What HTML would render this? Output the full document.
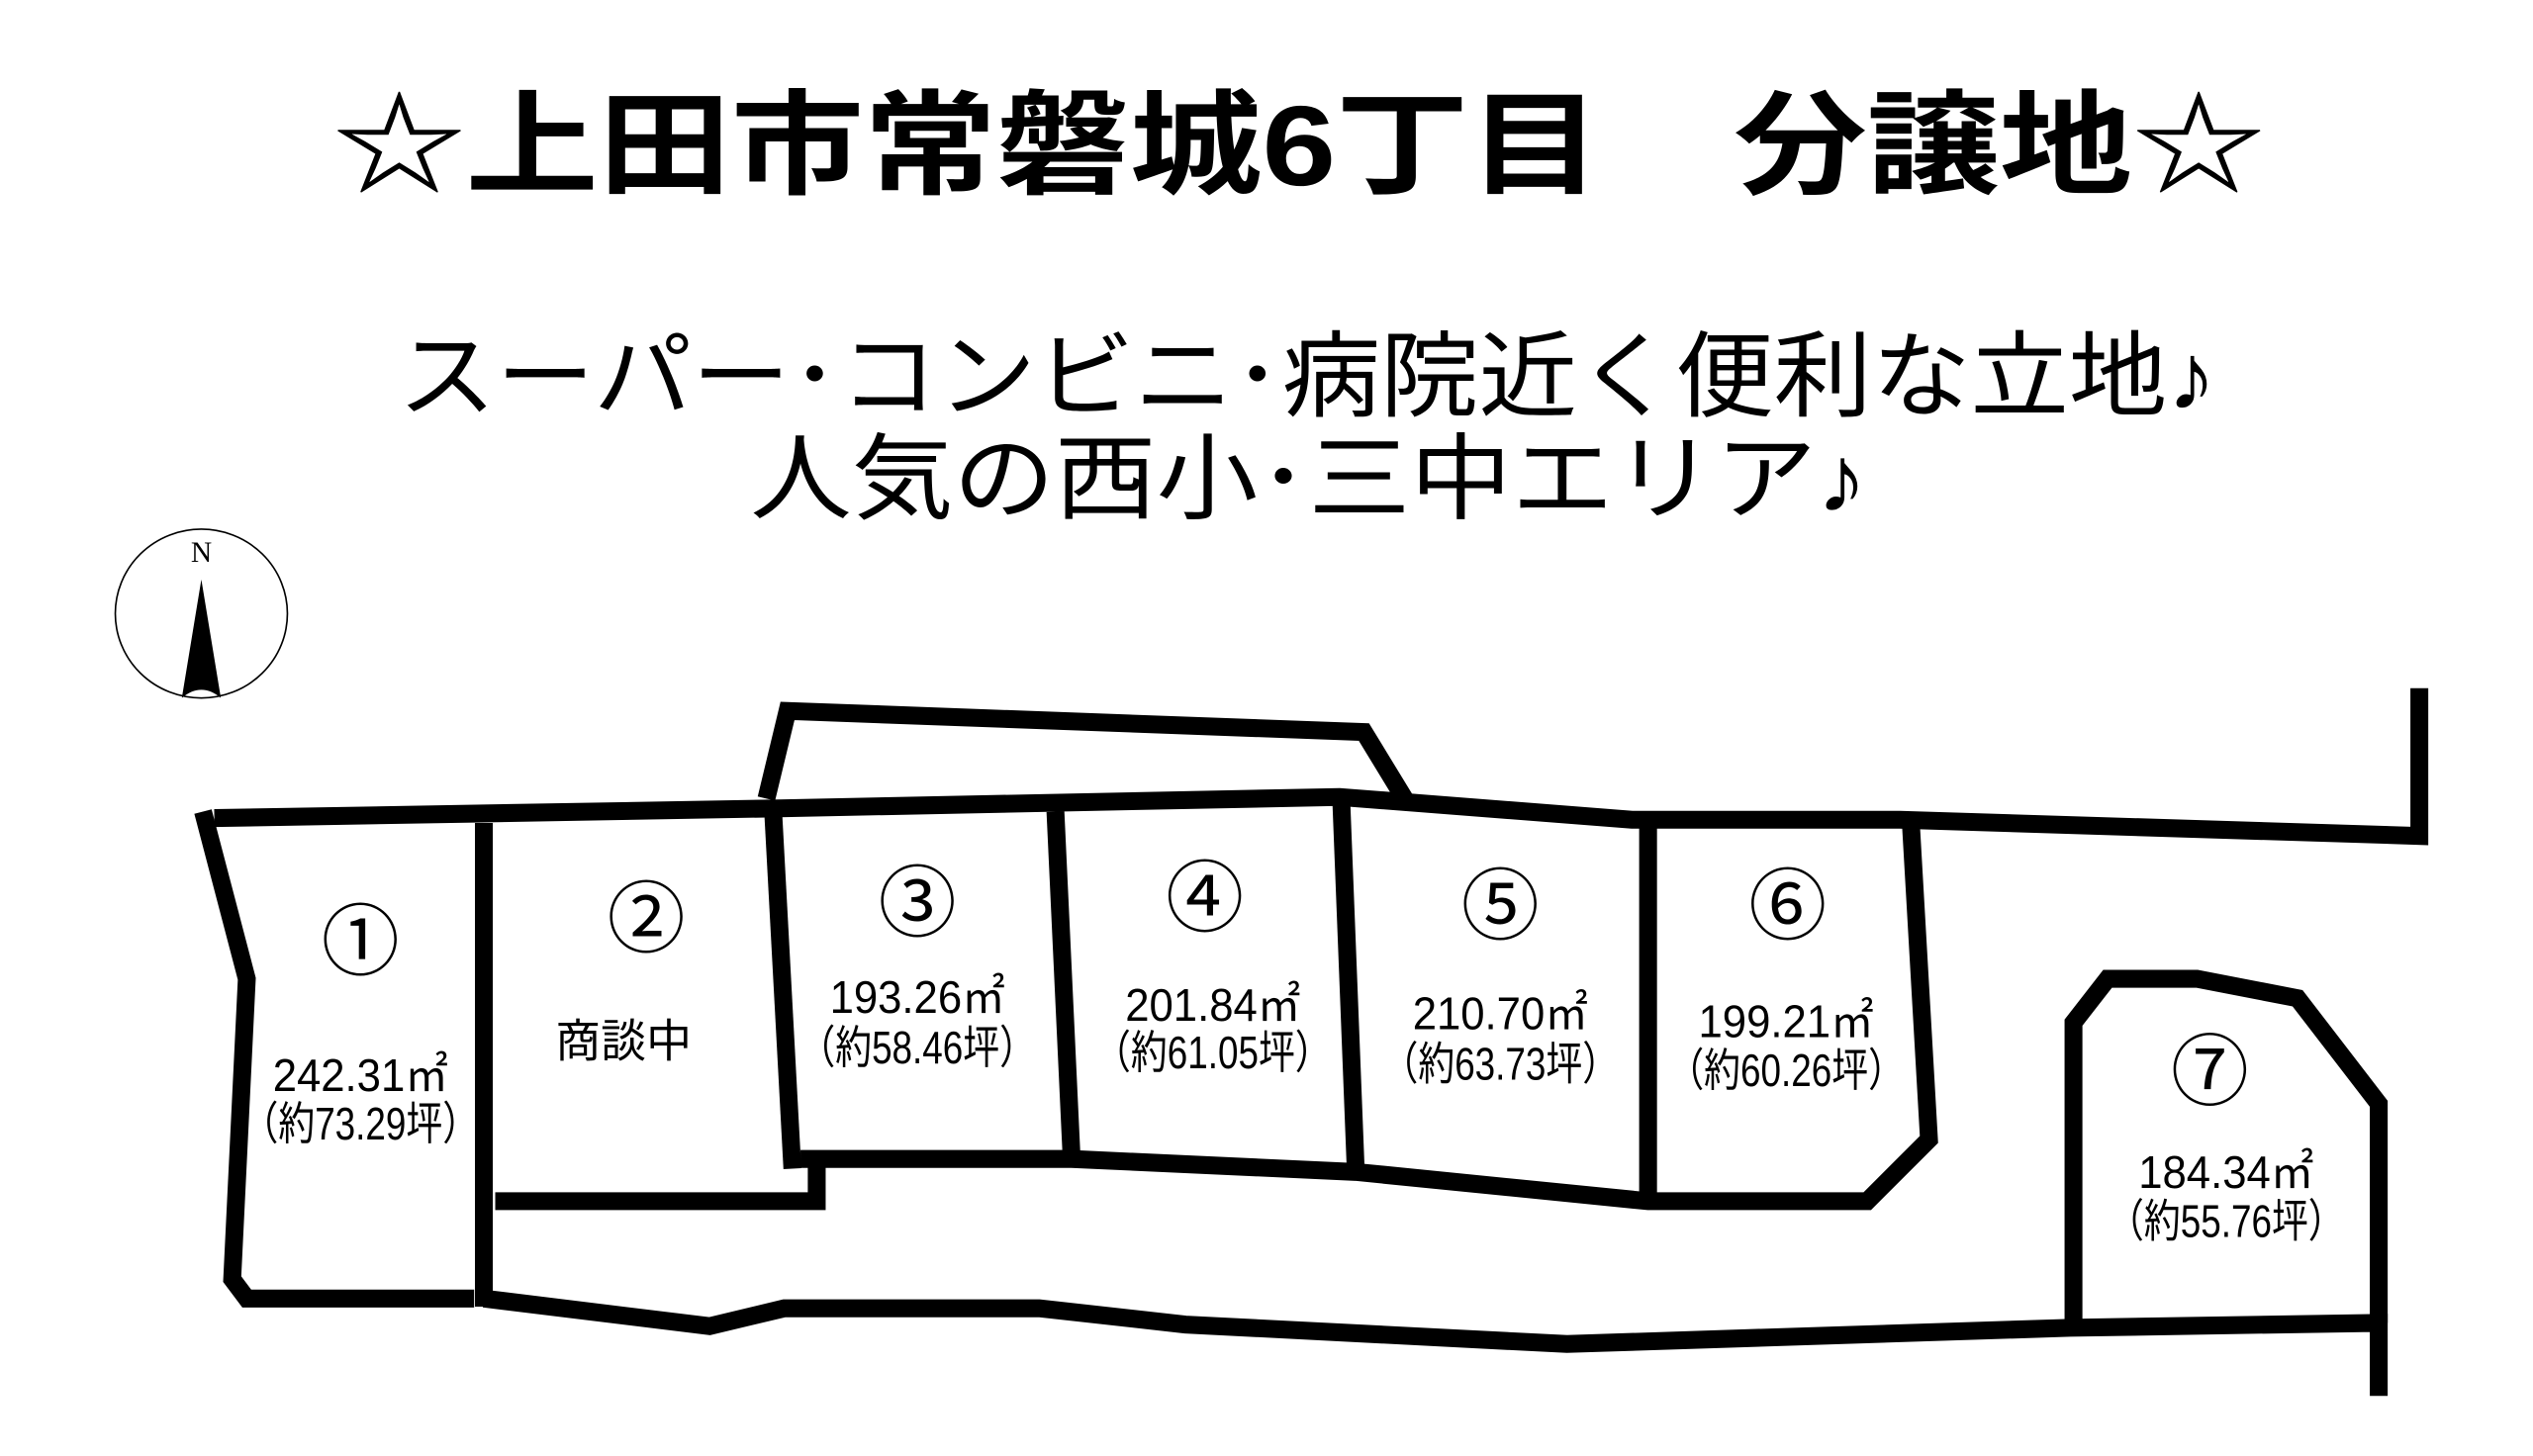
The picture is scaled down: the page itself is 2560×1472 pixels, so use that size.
<!DOCTYPE html>
<html><head><meta charset="utf-8"><style>
html,body{margin:0;padding:0;background:#fff;}
svg{display:block;}
text{font-family:"Liberation Sans","Noto Sans CJK JP",sans-serif;fill:#000;}
</style></head><body>
<svg width="2560" height="1472" viewBox="0 0 1560 897" preserveAspectRatio="none" xmlns="http://www.w3.org/2000/svg">
<rect width="1560" height="897" fill="#fff"/>
<text x="800" y="114" font-size="70" text-anchor="middle" textLength="1190" lengthAdjust="spacingAndGlyphs" font-weight="bold">☆上田市常磐城6丁目　分譲地☆</text>
<text x="805" y="252" font-size="58" text-anchor="middle" textLength="1120" lengthAdjust="spacingAndGlyphs">スーパー･コンビニ･病院近く便利な立地♪</text>
<text x="806" y="315" font-size="58" text-anchor="middle" textLength="688" lengthAdjust="spacingAndGlyphs">人気の西小･三中エリア♪</text>
<!-- compass -->
<ellipse cx="124" cy="378" rx="53" ry="52" fill="none" stroke="#000" stroke-width="1"/>
<text x="124" y="346" font-size="18" text-anchor="middle" style="font-family:'Liberation Serif',serif">N</text>
<path d="M124,357 L112,430 Q124,420 136,430 Z" fill="#000"/>
<g fill="none" stroke="#000" stroke-width="11" stroke-linejoin="miter">
<polyline points="125,500 152,603 143,788 152,800 292,800"/>
<polyline points="132,504 480,498 825,491 1005,505 1170,505 1490,515 1490,424"/>
<line x1="298" y1="507" x2="298" y2="805"/>
<polyline points="298,800 437,817 483,806 640,806 730,816 965,828 1275,818 1465,815 1465,860"/>
<polyline points="305,740 503,740 503,712"/>
<polyline points="476,497 488,720"/>
<polyline points="493,714 660,714 835,722 1015,740 1150,740 1188,702 1177,510"/>
<line x1="650" y1="500" x2="660" y2="714"/>
<line x1="826" y1="492" x2="835" y2="722"/>
<line x1="1015" y1="505" x2="1015" y2="740"/>
<polyline points="472,492 485,438 840,451 865,492"/>
<polyline points="1277,815 1277,630 1298,603 1353,603 1415,615 1465,680 1465,815"/>
</g>
<g font-size="48" text-anchor="middle">
<text x="222" y="597">①</text>
<text x="398" y="583">②</text>
<text x="565" y="573">③</text>
<text x="742" y="570">④</text>
<text x="924" y="575">⑤</text>
<text x="1101" y="575">⑥</text>
<text x="1361" y="677">⑦</text>
</g>
<g font-size="28" text-anchor="middle">
<text x="222" y="672" textLength="108" lengthAdjust="spacingAndGlyphs">242.31㎡</text><text x="222" y="702" textLength="146" lengthAdjust="spacingAndGlyphs">（約73.29坪）</text>
<text x="384" y="651" textLength="84" lengthAdjust="spacingAndGlyphs">商談中</text>
<text x="565" y="624" textLength="108" lengthAdjust="spacingAndGlyphs">193.26㎡</text><text x="565" y="655" textLength="146" lengthAdjust="spacingAndGlyphs">（約58.46坪）</text>
<text x="747" y="629" textLength="108" lengthAdjust="spacingAndGlyphs">201.84㎡</text><text x="747" y="658" textLength="146" lengthAdjust="spacingAndGlyphs">（約61.05坪）</text>
<text x="924" y="634" textLength="108" lengthAdjust="spacingAndGlyphs">210.70㎡</text><text x="924" y="665" textLength="146" lengthAdjust="spacingAndGlyphs">（約63.73坪）</text>
<text x="1100" y="639" textLength="108" lengthAdjust="spacingAndGlyphs">199.21㎡</text><text x="1100" y="669" textLength="146" lengthAdjust="spacingAndGlyphs">（約60.26坪）</text>
<text x="1371" y="732" textLength="108" lengthAdjust="spacingAndGlyphs">184.34㎡</text><text x="1371" y="762" textLength="146" lengthAdjust="spacingAndGlyphs">（約55.76坪）</text>
</g>
</svg>
</body></html>
